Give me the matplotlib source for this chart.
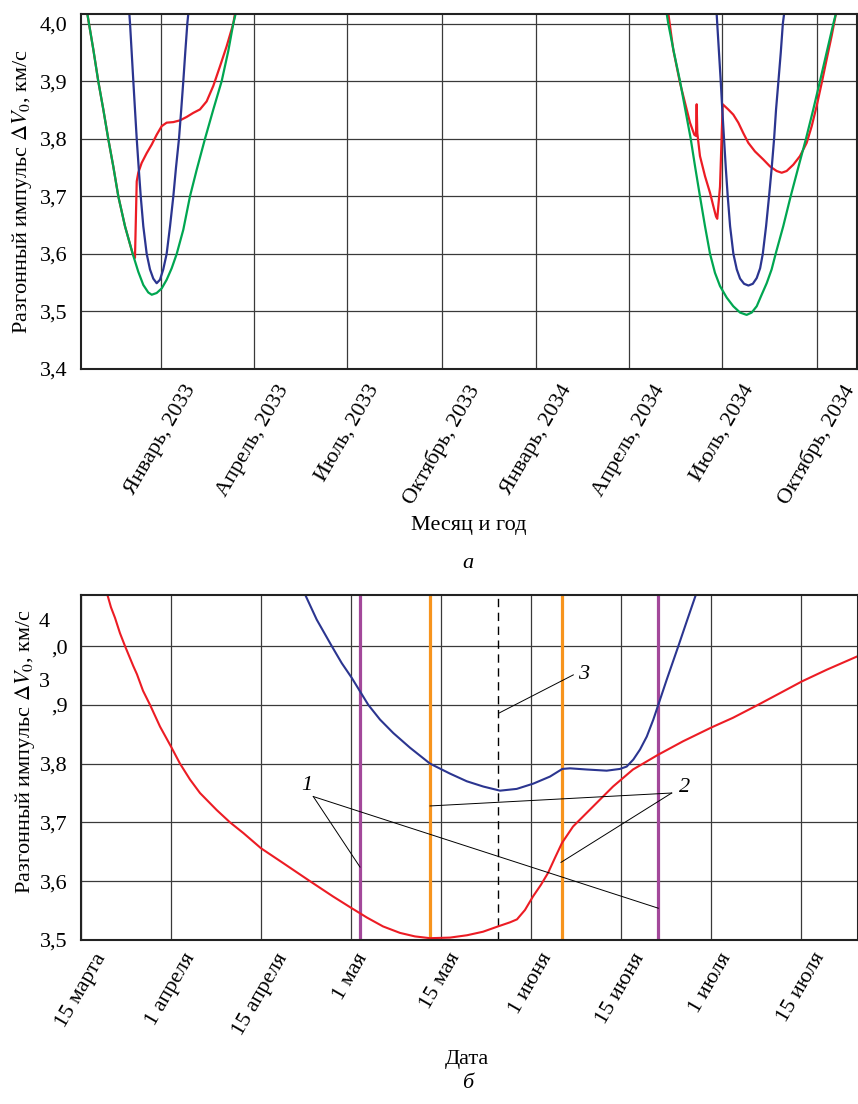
import matplotlib
matplotlib.use('Agg')
import matplotlib.pyplot as plt
from matplotlib.transforms import blended_transform_factory
from datetime import date

plt.rcParams['font.family'] = ['Liberation Serif', 'DejaVu Serif']
plt.rcParams['mathtext.fontset'] = 'stix'
plt.rcParams['font.size'] = 16

RED = '#ec1c24'
BLUE = '#2b3590'
GREEN = '#00a651'
ORANGE = '#f7941d'
PURPLE = '#a3489a'
GRID = '#3a3a3a'

# ---------- panel a: x in days from 1 Jan 2033 ----------
base = date(2033, 1, 1)
month_ticks = [date(2033, 1, 1), date(2033, 4, 1), date(2033, 7, 1), date(2033, 10, 1),
               date(2034, 1, 1), date(2034, 4, 1), date(2034, 7, 1), date(2034, 10, 1)]
month_labels = ['Январь, 2033', 'Апрель, 2033', 'Июль, 2033', 'Октябрь, 2033',
                'Январь, 2034', 'Апрель, 2034', 'Июль, 2034', 'Октябрь, 2034']

# window 2032/33
red_a1_days = [-71.7, -65.8, -61.0, -56.1, -51.3, -46.4, -41.5, -35.0, -27.5, -25.3,
               -23.6, -22.1, -18.8, -13.9, -9.0, -4.2, 0.7, 5.5, 12.0, 18.5, 25.0,
               31.4, 37.9, 44.4, 50.9, 57.4, 63.9, 70.3, 72.0]
red_a1_dv = [4.018, 3.955, 3.900, 3.851, 3.800, 3.752, 3.700, 3.648, 3.600, 3.593,
             3.726, 3.741, 3.758, 3.775, 3.790, 3.807, 3.822, 3.828, 3.829, 3.832, 3.838,
             3.845, 3.851, 3.865, 3.892, 3.926, 3.961, 4.0, 4.018]
blue_a1_days = [-30.8, -30.1, -28.5, -26.9, -25.3, -23.6, -21.7, -19.7, -17.2, -13.9,
                -10.7, -7.5, -4.2, -1.0, 2.2, 5.5, 8.8, 12.0, 14.6, 17.5, 19.7, 21.7,
                23.6, 25.6, 26.6]
blue_a1_dv = [4.018, 4.0, 3.950, 3.900, 3.851, 3.800, 3.750, 3.700, 3.648, 3.600,
              3.573, 3.557, 3.549, 3.555, 3.573, 3.600, 3.648, 3.700, 3.750, 3.800,
              3.851, 3.900, 3.950, 4.0, 4.018]
green_a1_days = [-71.7, -65.8, -61.0, -56.1, -51.3, -46.4, -41.5, -35.0, -27.5, -22.1,
                 -17.2, -12.4, -9.0, -4.2, 0.7, 5.5, 10.4, 15.3, 21.7, 28.2, 34.7,
                 42.8, 50.9, 59.0, 65.5, 70.3, 72.7]
green_a1_dv = [4.018, 3.955, 3.900, 3.851, 3.800, 3.752, 3.700, 3.648, 3.600, 3.569,
               3.546, 3.533, 3.529, 3.532, 3.540, 3.555, 3.575, 3.600, 3.642, 3.700,
               3.746, 3.800, 3.851, 3.900, 3.953, 4.0, 4.018]

# window 2034
red_a2_days = [493.4, 498.2, 504.8, 509.6, 514.5, 518.7, 520.3, 521.0, 521.6, 524.2, 529.1,
               534.0, 537.2, 539.8, 541.0, 543.7, 546.3, 551.7, 556.6, 561.5, 566.3, 571.2,
               577.7, 585.8, 592.3, 598.8, 603.7, 608.5, 615.0, 621.5, 628.0, 632.9,
               637.7, 642.6, 647.4, 652.3, 656.5]
red_a2_dv = [4.018, 3.955, 3.897, 3.863, 3.828, 3.807, 3.805, 3.860, 3.810, 3.770, 3.735,
             3.706, 3.683, 3.665, 3.661, 3.717, 3.860, 3.851, 3.842, 3.828, 3.810, 3.793,
             3.778, 3.764, 3.752, 3.744, 3.741, 3.744, 3.755, 3.770, 3.793, 3.822,
             3.857, 3.897, 3.938, 3.979, 4.018]
blue_a2_days = [540.4, 541.0, 542.7, 544.4, 545.9, 547.6, 549.3, 551.2, 553.5, 556.7,
                560.0, 563.2, 567.1, 571.3, 575.6, 579.4, 582.7, 585.3, 588.5, 591.4,
                594.0, 596.3, 598.2, 600.5, 602.8, 604.8, 606.1]
blue_a2_dv = [4.018, 4.0, 3.950, 3.900, 3.851, 3.800, 3.750, 3.700, 3.648, 3.600,
              3.573, 3.557, 3.548, 3.545, 3.548, 3.558, 3.575, 3.600, 3.648, 3.700,
              3.750, 3.800, 3.851, 3.900, 3.950, 4.0, 4.018]
green_a2_days = [491.8, 493.4, 498.9, 504.8, 509.9, 515.2, 519.6, 524.2, 529.1, 534.0,
                 538.8, 543.7, 550.2, 556.6, 563.2, 569.6, 574.5, 579.4, 584.2, 589.1,
                 593.9, 597.8, 605.2, 612.4, 619.8, 627.3, 634.4, 640.9, 647.4, 653.9,
                 656.5]
green_a2_dv = [4.018, 4.0, 3.950, 3.900, 3.851, 3.800, 3.750, 3.700, 3.648, 3.600,
               3.567, 3.544, 3.524, 3.509, 3.498, 3.494, 3.498, 3.509, 3.529, 3.549,
               3.573, 3.600, 3.648, 3.700, 3.750, 3.800, 3.851, 3.900, 3.950, 4.0,
               4.018]

# ---------- panel b: x in grid steps (the date grid is drawn evenly) ----------
date_labels = ['15 марта', '1 апреля', '15 апреля', '1 мая', '15 мая',
               '1 июня', '15 июня', '1 июля', '15 июля']
red_b_x = [0.292, 0.333, 0.378, 0.433, 0.489, 0.581, 0.622, 0.689, 0.767, 0.878, 1.0,
           1.1, 1.211, 1.322, 1.508, 1.656, 1.803, 2.0, 2.244, 2.544, 2.8, 3.008,
           3.178, 3.356, 3.544, 3.711, 3.878, 4.1, 4.289, 4.467, 4.633, 4.767, 4.844,
           4.933, 5.022, 5.111, 5.189, 5.267, 5.344, 5.467, 5.689, 5.911, 6.133,
           6.411, 6.689, 7.011, 7.244, 7.522, 7.767, 8.011, 8.289, 8.633]
red_b_dv = [4.088, 4.066, 4.048, 4.022, 4.0, 3.966, 3.952, 3.924, 3.9, 3.863, 3.829,
            3.8, 3.773, 3.75, 3.721, 3.7, 3.682, 3.656, 3.631, 3.6, 3.574, 3.554,
            3.538, 3.523, 3.512, 3.506, 3.503, 3.504, 3.508, 3.514, 3.523, 3.53, 3.535,
            3.551, 3.574, 3.594, 3.614, 3.64, 3.665, 3.693, 3.727, 3.761, 3.79,
            3.815, 3.838, 3.862, 3.878, 3.9, 3.92, 3.94, 3.96, 3.983]
blue_b_x = [2.489, 2.619, 2.786, 2.897, 3.008, 3.1, 3.192, 3.322, 3.47, 3.656, 3.878,
            4.1, 4.286, 4.47, 4.656, 4.841, 5.026, 5.211, 5.348, 5.433, 5.619, 5.841,
            5.989, 6.063, 6.137, 6.211, 6.286, 6.359, 6.414, 6.508, 6.637, 6.730, 6.833]
blue_b_dv = [4.088, 4.045, 4.0, 3.971, 3.946, 3.923, 3.9, 3.875, 3.852, 3.827, 3.8,
             3.783, 3.770, 3.761, 3.754, 3.757, 3.766, 3.778, 3.791, 3.792, 3.790, 3.788,
             3.791, 3.795, 3.807, 3.824, 3.846, 3.875, 3.9, 3.943, 4.0, 4.042, 4.088]
marks_1 = [3.1, 6.414]      # curve 1 bounds (purple)
marks_2 = [3.878, 5.348]    # curve 2 bounds (orange)
mark_3 = 4.637              # dashed line 3


def comma(v):
    return ('%.1f' % v).replace('.', ',')


fig = plt.figure(figsize=(8.58, 11.04), dpi=100)
ylab = r'Разгонный импульс $\Delta V_0$, км/с'

# ---------------- panel a ----------------
ax1 = fig.add_axes([0.0944, 0.6658, 0.9044, 0.3216])
ax1.plot(red_a1_days, red_a1_dv, color=RED, lw=1.6)
ax1.plot(red_a2_days, red_a2_dv, color=RED, lw=1.6)
ax1.plot(blue_a1_days, blue_a1_dv, color=BLUE, lw=1.6)
ax1.plot(blue_a2_days, blue_a2_dv, color=BLUE, lw=1.6)
ax1.plot(green_a1_days, green_a1_dv, color=GREEN, lw=1.6)
ax1.plot(green_a2_days, green_a2_dv, color=GREEN, lw=1.6)
ax1.set_xlim(-77.8, 676.9)
ax1.set_ylim(3.4, 4.017)
ax1.set_xticks([(d - base).days for d in month_ticks])
ax1.set_xticklabels(month_labels, rotation=60, ha='center', va='top')
yt = [3.4, 3.5, 3.6, 3.7, 3.8, 3.9, 4.0]
ax1.set_yticks(yt)
ax1.set_yticklabels([comma(v) for v in yt])
ax1.tick_params(axis='both', length=0)
ax1.tick_params(axis='y', pad=9.5)
ax1.tick_params(axis='x', pad=9)
ax1.grid(True, color=GRID, lw=0.9)
ax1.set_xlabel('Месяц и год')
ax1.xaxis.set_label_coords(0.5, -0.415)
ax1.set_ylabel(ylab)
ax1.yaxis.set_label_coords(-0.061, 0.5)
for s in ax1.spines.values():
    s.set_linewidth(1.5)
    s.set_color('#222222')
fig.text(0.545, 1 - 563 / 1104, 'а', style='italic', ha='center', va='center')

# ---------------- panel b ----------------
ax2 = fig.add_axes([0.0944, 0.1486, 0.9056, 0.3125])
for xm in marks_1:
    ax2.axvline(xm, color=PURPLE, lw=2.3)
for xm in marks_2:
    ax2.axvline(xm, color=ORANGE, lw=2.3)
ax2.axvline(mark_3, color='black', lw=1.0, dashes=(6, 4))
ax2.plot(red_b_x, red_b_dv, color=RED, lw=1.5)
ax2.plot(blue_b_x, blue_b_dv, color=BLUE, lw=1.5)
ax2.set_xlim(0, 8.633)
ax2.set_ylim(3.5, 4.087)
ax2.set_xticks(range(len(date_labels)))
ax2.set_xticklabels(date_labels, rotation=60, ha='center', va='top')
yt2 = [3.5, 3.6, 3.7, 3.8, 3.9, 4.0]
ax2.set_yticks(yt2)
ax2.set_yticklabels(['3,5', '3,6', '3,7', '3,8', ',9', ',0'])
# the "3" and "4" of the upper labels are displaced in the reference
tr = blended_transform_factory(ax2.transAxes, ax2.transData)
ax2.text(-0.040, 3.943, '3', transform=tr, ha='right', va='center_baseline')
ax2.text(-0.040, 4.045, '4', transform=tr, ha='right', va='center_baseline')
ax2.tick_params(axis='both', length=0)
ax2.tick_params(axis='y', pad=9.5)
ax2.tick_params(axis='x', pad=7)
ax2.grid(True, color=GRID, lw=0.9)
ax2.set_xlabel('Дата')
ax2.xaxis.set_label_coords(0.497, -0.32)
ax2.set_ylabel(ylab)
ax2.yaxis.set_label_coords(-0.057, 0.545)
for s in ax2.spines.values():
    s.set_linewidth(1.5)
    s.set_color('#222222')

# leader lines and curve numbers
lk = dict(color='black', lw=0.7)
ax2.plot([2.581, 3.1], [3.744, 3.624], **lk)
ax2.plot([2.581, 6.414], [3.744, 3.554], **lk)
ax2.text(2.511, 3.762, '1', style='italic', ha='center', va='center')
ax2.plot([6.563, 3.878], [3.750, 3.728], **lk)
ax2.plot([6.563, 5.333], [3.750, 3.632], **lk)
ax2.text(6.711, 3.760, '2', style='italic', ha='center', va='center')
ax2.plot([5.470, 4.644], [3.951, 3.886], **lk)
ax2.text(5.581, 3.951, '3', style='italic', ha='center', va='center')
fig.text(0.545, 1 - 1084 / 1104, 'б', style='italic', ha='center', va='center')

fig.savefig('out.png', dpi=100)
